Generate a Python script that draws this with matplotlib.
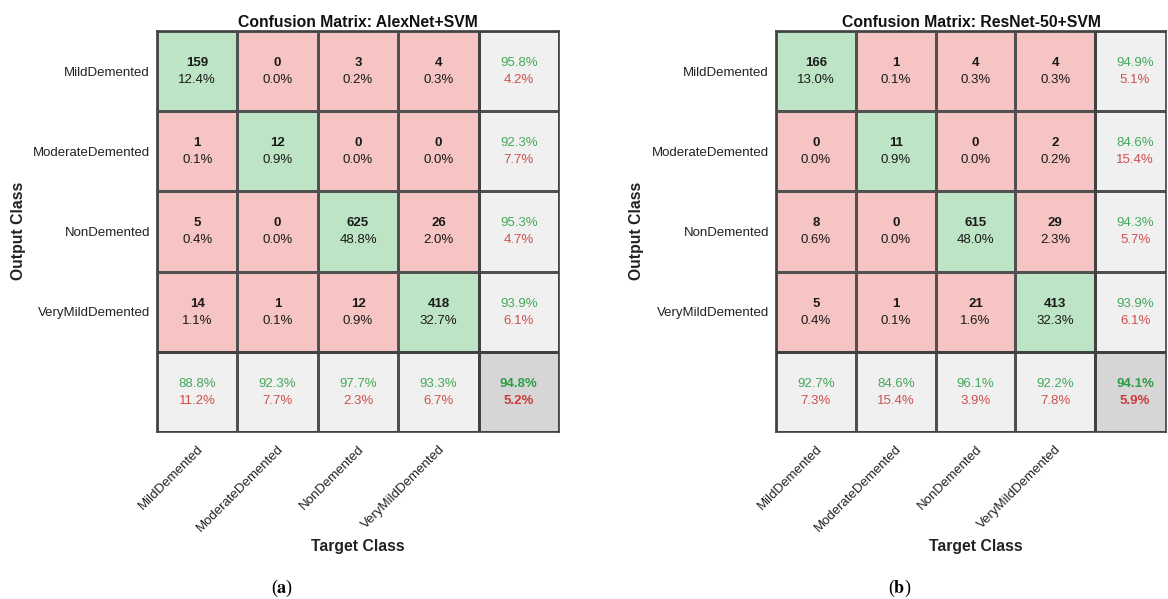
import matplotlib
matplotlib.use("Agg")
import matplotlib.pyplot as plt
import matplotlib.transforms as mtransforms
from matplotlib.colors import ListedColormap
import numpy as np

plt.rcParams['font.family'] = ['Liberation Sans', 'DejaVu Sans']

# Class names (rows = output class, columns = target class)
classes = ['MildDemented', 'ModerateDemented', 'NonDemented', 'VeryMildDemented']

# Confusion matrix counts
alexnet_counts = [[159, 0, 3, 4],
                  [1, 12, 0, 0],
                  [5, 0, 625, 26],
                  [14, 1, 12, 418]]
resnet_counts = [[166, 1, 4, 4],
                 [0, 11, 0, 2],
                 [8, 0, 615, 29],
                 [5, 1, 21, 413]]

titles = ['Confusion Matrix: AlexNet+SVM', 'Confusion Matrix: ResNet-50+SVM']
panel_tags = ['a', 'b']

GREEN_TXT = '#45a85a'
RED_TXT = '#cc4f4f'
cmap = ListedColormap(['#f6c4c2', '#bde4c4', '#f0f0f0', '#d6d6d6'])


def pct(v):
    return f"{v:.1f}%"


def draw_matrix(ax, counts, title, xmax):
    cm = np.array(counts)
    n = cm.shape[0]
    total = cm.sum()

    # cell colour codes: 0 = wrong, 1 = correct, 2 = summary, 3 = overall
    codes = np.zeros((n + 1, n + 1))
    codes[np.arange(n), np.arange(n)] = 1
    codes[n, :] = 2
    codes[:, n] = 2
    codes[n, n] = 3
    ax.pcolormesh(np.arange(n + 2), np.arange(n + 2), codes, cmap=cmap,
                  vmin=0, vmax=3, edgecolors='#505050', linewidth=0.8)
    ax.axvline(n, color='#404040', lw=2.0)
    ax.axhline(n, color='#404040', lw=2.0)

    for i in range(n):
        for j in range(n):
            ax.text(j + 0.5, i + 0.4, str(cm[i, j]), ha='center', va='center',
                    fontsize=9.5, fontweight='bold', color='#1a1a1a')
            ax.text(j + 0.5, i + 0.61, pct(100 * cm[i, j] / total), ha='center',
                    va='center', fontsize=9.5, color='#1a1a1a')

    # row summary (precision), column summary (recall)
    for i in range(n):
        p = 100 * cm[i, i] / cm[i, :].sum()
        ax.text(n + 0.5, i + 0.4, pct(p), ha='center', va='center',
                fontsize=9.5, color=GREEN_TXT)
        ax.text(n + 0.5, i + 0.61, pct(100 - p), ha='center', va='center',
                fontsize=9.5, color=RED_TXT)
    for j in range(n):
        r = 100 * cm[j, j] / cm[:, j].sum()
        ax.text(j + 0.5, n + 0.4, pct(r), ha='center', va='center',
                fontsize=9.5, color=GREEN_TXT)
        ax.text(j + 0.5, n + 0.61, pct(100 - r), ha='center', va='center',
                fontsize=9.5, color=RED_TXT)
    acc = 100 * np.trace(cm) / total
    ax.text(n + 0.5, n + 0.4, pct(acc), ha='center', va='center',
            fontsize=9.5, fontweight='bold', color='#2e9e45')
    ax.text(n + 0.5, n + 0.61, pct(100 - acc), ha='center', va='center',
            fontsize=9.5, fontweight='bold', color='#cc3b3b')

    ax.set_xlim(0, xmax)
    ax.set_ylim(n + 1, 0)
    ax.set_yticks(np.arange(n) + 0.5)
    ax.set_yticklabels(classes, fontsize=9.5, color='#222222')
    ax.set_xticks(np.arange(n) + 0.5)
    ax.set_xticklabels(classes, fontsize=9.5, color='#222222', rotation=45,
                       ha='right', va='top', rotation_mode='anchor')
    offset = mtransforms.ScaledTranslation(0.09, 0.0, ax.figure.dpi_scale_trans)
    for lab in ax.get_xticklabels():
        lab.set_transform(lab.get_transform() + offset)
    ax.tick_params(length=0, pad=5)
    ax.tick_params(axis='x', pad=8)
    for s in ax.spines.values():
        s.set_color('#404040')
        s.set_linewidth(1.2)
    ax.set_title(title, fontsize=11.3, fontweight='bold', pad=3, color='#111111')


fig = plt.figure(figsize=(11.68, 5.99), dpi=100)
W, H = 1168, 599
ax_a = fig.add_axes([157 / W, 1 - 432 / H, 402 / W, 401 / H])
ax_b = fig.add_axes([776 / W, 1 - 432 / H, 390 / W, 401 / H])

draw_matrix(ax_a, alexnet_counts, titles[0], 5)
draw_matrix(ax_b, resnet_counts, titles[1], 4 + 71 / 80)

# axis titles and panel tags, placed in figure pixels
for x_out, x_tgt, x_tag, tag in [(19, 358, 282, panel_tags[0]),
                                 (637, 976, 900, panel_tags[1])]:
    fig.text(x_out / W, 1 - 231 / H, 'Output Class', rotation=90, ha='center',
             va='center', fontsize=11.3, fontweight='bold', color='#222222')
    fig.text(x_tgt / W, 1 - 547 / H, 'Target Class', ha='center', va='center',
             fontsize=11.3, fontweight='bold', color='#222222')
    fig.text(x_tag / W, 1 - 588 / H, f'($\\mathbf{{{tag}}}$)', ha='center',
             va='center', fontsize=13, family='Liberation Serif',
             math_fontfamily='stix')

fig.savefig('out.png', dpi=100)
